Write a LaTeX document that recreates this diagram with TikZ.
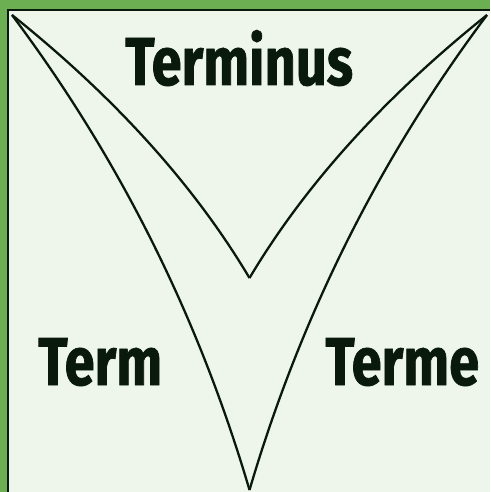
\documentclass[tikz,border=0pt]{standalone}
\usepackage{fontspec}
\newfontfamily\signfont{Fira Sans}[FakeStretch=0.8, BoldFeatures={FakeBold=1}]
\usepackage{tikz}
\usetikzlibrary{positioning}
\usepackage{xcolor}
\definecolor{frame}{HTML}{6BAF52}
\definecolor{paper}{HTML}{EEF5EA}
\definecolor{ink}{HTML}{09190B}

\begin{document}
\begin{tikzpicture}[x=0.02cm, y=-0.02cm,
    curve/.style={draw=ink, line width=1.3pt},
    word/.style={ink, anchor=base west, inner sep=0pt,
      font=\signfont\bfseries\fontsize{38.6}{40}\selectfont}]
      \useasboundingbox (0,0) rectangle (490,492);
      \fill[frame] (0,0) rectangle (490,492);
      \fill[paper] (8,10) rectangle (490,492);
      \draw[ink, line width=1.6pt] (8,492) -- (8,10) -- (490,10);
      % the four points of the curves
      \coordinate (topleft) at (12,15);
      \coordinate (topright) at (487,15);
      \coordinate (middle) at (249.5,278);
      \coordinate (bottom) at (249.5,490);
      \draw[curve] (topleft) .. controls (118.7,157.4) and (198,315.1) .. (bottom);
      \draw[curve] (topright) .. controls (380.3,157.4) and (301,315.1) .. (bottom);
      \draw[curve] (topleft) .. controls (114.8,97.3) and (194.1,184.9) .. (middle);
      \draw[curve] (topright) .. controls (384.2,97.3) and (304.9,184.9) .. (middle);
      \node[word] (terminus) at (125,85) {Terminus};
      \node[word] (term) at (38,385) {Term};
      \node[word] (terme) at (325,385) {Terme};
    \end{tikzpicture}
\end{document}
